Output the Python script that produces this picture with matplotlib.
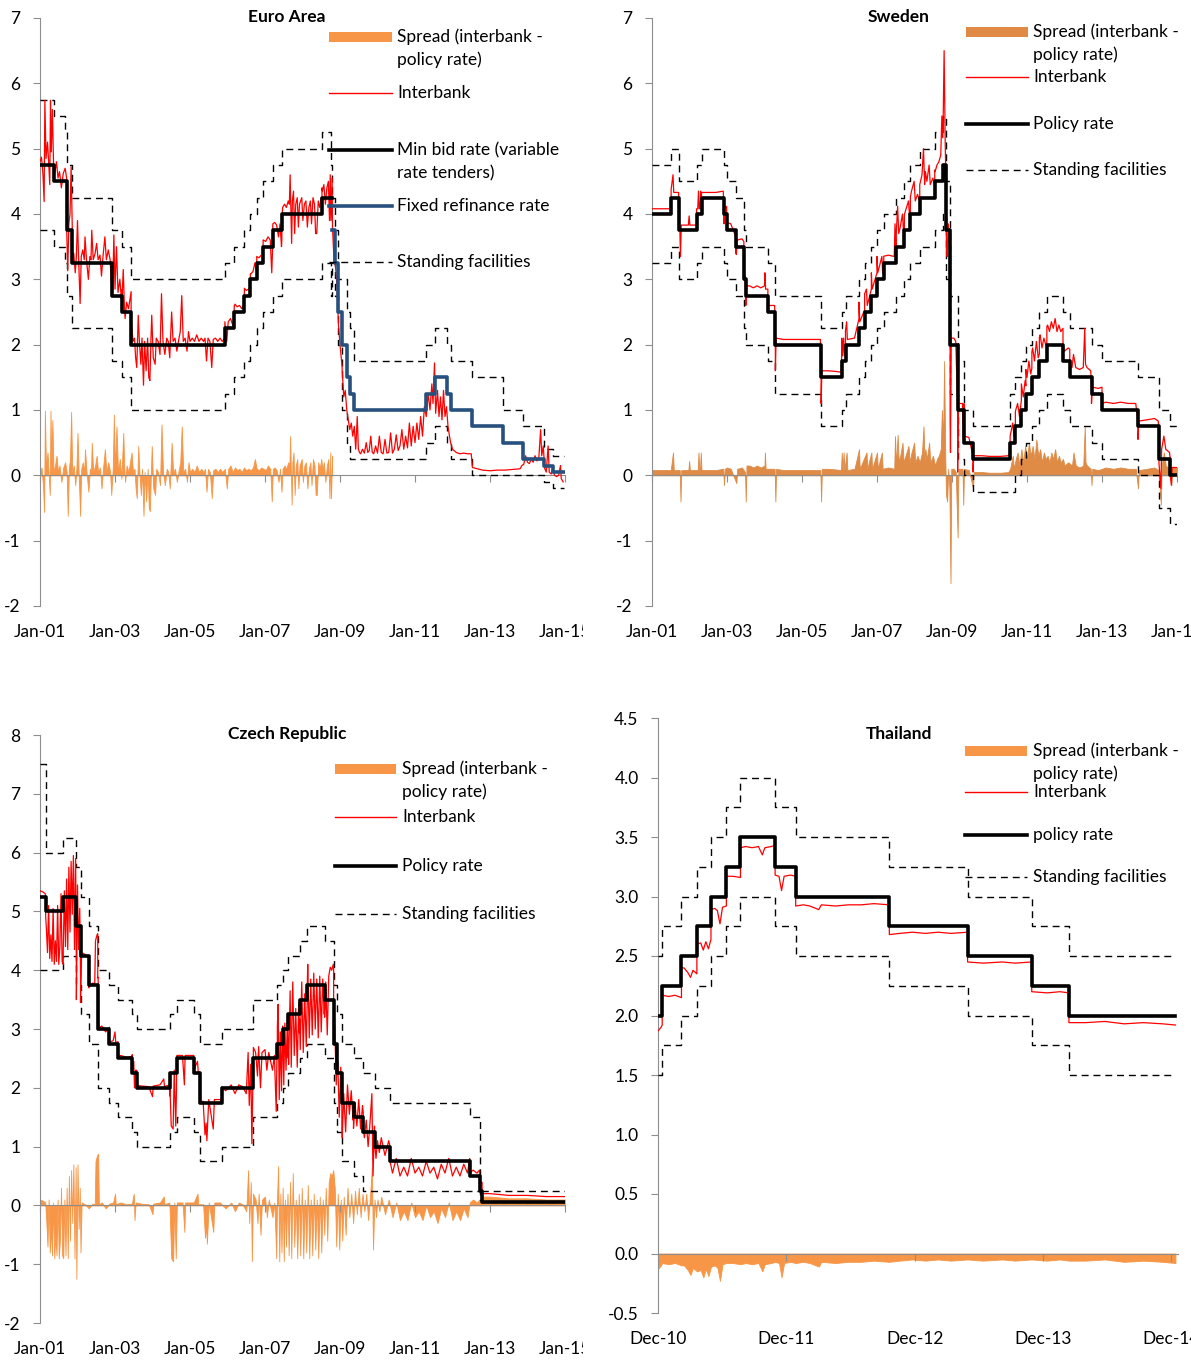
import numpy as np
import matplotlib
matplotlib.use("Agg")
import matplotlib.pyplot as plt
from matplotlib.transforms import Bbox, offset_copy
from matplotlib.lines import Line2D
from matplotlib.patches import Rectangle

plt.rcParams['font.family'] = ['Lato', 'DejaVu Sans']
plt.rcParams['axes.unicode_minus'] = False

W, H = 1191, 1362
ORANGE = '#F79646'
ORANGE_SE = '#DF8B45'
RED = '#FF0000'
NAVY = '#27507F'
GREY = '#8E8E8E'
DASH = (0, (5, 3.5))
FS = 12.5

# ---------------- Euro Area ----------------
ea_mbr_t = [2001.0, 2001.36, 2001.71, 2001.86, 2002.93, 2003.18, 2003.43, 2005.93, 2006.18,
            2006.45, 2006.61, 2006.78, 2006.95, 2007.20, 2007.45, 2008.52]
ea_mbr_v = [4.75, 4.5, 3.75, 3.25, 2.75, 2.5, 2.0, 2.25, 2.5, 2.75, 3.0, 3.25, 3.5, 3.75, 4.0, 4.25]
ea_mbr_end = 2008.79
ea_fix_t = [2008.79, 2008.87, 2008.94, 2009.05, 2009.19, 2009.27, 2009.36, 2011.28, 2011.53,
            2011.86, 2011.95, 2012.52, 2013.35, 2013.87, 2014.44, 2014.69]
ea_fix_v = [3.75, 3.25, 2.5, 2.0, 1.5, 1.25, 1.0, 1.25, 1.5, 1.25, 1.0, 0.75, 0.5, 0.25, 0.15, 0.05]
ea_sf_t = [2001.0, 2001.36, 2001.66, 2001.71, 2001.86, 2002.93, 2003.18, 2003.43, 2005.93, 2006.18,
           2006.45, 2006.61, 2006.78, 2006.95, 2007.20, 2007.45, 2008.52, 2008.77, 2008.78, 2008.87,
           2008.94, 2009.05, 2009.19, 2009.27, 2009.36, 2011.28, 2011.53, 2011.86, 2011.95, 2012.52,
           2013.35, 2013.87, 2014.44, 2014.69]
ea_hi_v = [5.75, 5.5, 5.25, 4.75, 4.25, 3.75, 3.5, 3.0, 3.25, 3.5, 3.75, 4.0, 4.25, 4.5, 4.75, 5.0,
           5.25, 4.75, 4.25, 3.75, 3.0, 3.0, 2.5, 2.25, 1.75, 2.0, 2.25, 2.0, 1.75, 1.5, 1.0, 0.75,
           0.4, 0.3]
ea_lo_v = [3.75, 3.5, 3.25, 2.75, 2.25, 1.75, 1.5, 1.0, 1.25, 1.5, 1.75, 2.0, 2.25, 2.5, 2.75, 3.0,
           3.25, 2.75, 3.25, 2.75, 2.0, 1.0, 0.5, 0.25, 0.25, 0.5, 0.75, 0.5, 0.25, 0.0, 0.0, 0.0,
           -0.1, -0.2]
ea_end = 2014.98
# spread (interbank - min bid rate), until the switch to fixed rate tenders
ea_spread = [
    (2001.00, 0.05), (2001.04, 0.12), (2001.08, -0.15), (2001.11, -0.56), (2001.13, 0.99),
    (2001.16, 0.1), (2001.20, 0.35), (2001.23, 0.05), (2001.26, -0.3), (2001.28, 0.99),
    (2001.30, 0.2), (2001.33, 0.85), (2001.36, 0.05), (2001.40, 0.15), (2001.44, 0.3),
    (2001.48, 0.05), (2001.52, 0.15), (2001.57, -0.1), (2001.62, 0.12), (2001.67, 0.2),
    (2001.71, 0.05), (2001.74, -0.62), (2001.77, 0.1), (2001.80, 0.25), (2001.83, 0.97),
    (2001.86, 0.05), (2001.90, 0.15), (2001.94, -0.15), (2001.97, 0.1), (2002.00, 0.65),
    (2002.03, 0.05), (2002.07, -0.62), (2002.10, 0.1), (2002.14, 0.2), (2002.18, 0.05),
    (2002.20, 0.4), (2002.24, 0.05), (2002.29, -0.25), (2002.33, 0.1), (2002.36, 0.05),
    (2002.38, 0.5), (2002.42, 0.05), (2002.47, 0.15), (2002.51, 0.3), (2002.55, 0.05),
    (2002.60, 0.12), (2002.64, -0.2), (2002.68, 0.1), (2002.73, 0.4), (2002.77, 0.05),
    (2002.82, 0.2), (2002.87, 0.05), (2002.90, -0.3), (2002.94, 0.1), (2002.97, 0.93),
    (2003.00, 0.1), (2003.04, 0.75), (2003.08, 0.05), (2003.13, 0.25), (2003.17, -0.05),
    (2003.22, 0.65), (2003.25, 0.1), (2003.27, -0.1), (2003.31, 0.15), (2003.36, 0.05),
    (2003.40, 0.2), (2003.44, 0.35), (2003.48, 0.05), (2003.52, 0.1), (2003.55, -0.2),
    (2003.58, -0.35), (2003.62, 0.45), (2003.65, 0.05), (2003.69, -0.3), (2003.72, 0.1),
    (2003.76, -0.62), (2003.79, 0.05), (2003.83, -0.4), (2003.87, 0.1), (2003.90, -0.5),
    (2003.93, -0.55), (2003.96, 0.1), (2003.98, 0.45), (2004.02, -0.2), (2004.07, -0.3),
    (2004.10, 0.1), (2004.15, 0.05), (2004.20, -0.15), (2004.24, 0.78), (2004.28, 0.05),
    (2004.33, -0.15), (2004.38, 0.1), (2004.42, 0.05), (2004.46, -0.2), (2004.51, 0.5),
    (2004.55, 0.05), (2004.60, 0.1), (2004.65, -0.1), (2004.70, 0.08), (2004.74, 0.2),
    (2004.78, 0.75), (2004.82, 0.05), (2004.87, 0.1), (2004.92, -0.1), (2004.96, 0.2),
    (2005.00, 0.05), (2005.06, 0.1), (2005.12, 0.05), (2005.18, 0.15), (2005.24, 0.05),
    (2005.30, 0.1), (2005.36, 0.05), (2005.40, 0.1), (2005.44, -0.25), (2005.48, 0.1),
    (2005.53, 0.05), (2005.58, -0.35), (2005.62, 0.08), (2005.68, 0.1), (2005.74, 0.05),
    (2005.80, 0.1), (2005.86, 0.05), (2005.93, 0.1), (2005.98, -0.2), (2006.02, 0.1),
    (2006.08, 0.15), (2006.14, 0.05), (2006.20, 0.12), (2006.26, 0.08), (2006.32, 0.1),
    (2006.38, 0.05), (2006.44, 0.12), (2006.50, 0.08), (2006.56, 0.1), (2006.62, 0.08),
    (2006.68, 0.12), (2006.73, 0.25), (2006.78, 0.1), (2006.84, 0.08), (2006.90, 0.12),
    (2006.96, 0.1), (2007.02, 0.08), (2007.08, 0.15), (2007.14, 0.1), (2007.18, -0.4),
    (2007.21, 0.1), (2007.26, 0.12), (2007.31, 0.08), (2007.36, -0.1), (2007.40, 0.1),
    (2007.44, -0.25), (2007.47, 0.1), (2007.52, 0.15), (2007.57, 0.1), (2007.62, 0.2),
    (2007.65, 0.15), (2007.67, 0.6), (2007.69, 0.1), (2007.71, -0.45), (2007.73, 0.2),
    (2007.76, 0.35), (2007.79, -0.3), (2007.82, 0.15), (2007.86, 0.25), (2007.89, -0.2),
    (2007.92, 0.15), (2007.95, 0.2), (2007.98, 0.25), (2008.01, -0.1), (2008.05, 0.15),
    (2008.09, 0.2), (2008.13, -0.2), (2008.17, 0.1), (2008.21, 0.2), (2008.24, -0.15),
    (2008.28, 0.25), (2008.32, 0.15), (2008.35, -0.3), (2008.38, -0.3), (2008.42, 0.2),
    (2008.46, 0.1), (2008.50, 0.25), (2008.53, 0.1), (2008.57, 0.2), (2008.61, -0.1),
    (2008.65, 0.15), (2008.69, 0.25), (2008.72, -0.35), (2008.74, 0.35), (2008.76, -0.35),
    (2008.79, 0.3),
]
# interbank level after Oct 2008
ea_ib_post = [
    (2008.80, 3.8), (2008.84, 3.3), (2008.88, 3.2), (2008.92, 2.9), (2008.96, 2.3), (2009.00, 2.0),
    (2009.05, 1.7), (2009.10, 1.2), (2009.14, 1.3), (2009.18, 1.0), (2009.22, 0.85), (2009.26, 0.7),
    (2009.30, 0.8), (2009.34, 0.6), (2009.38, 0.75), (2009.42, 0.4), (2009.46, 0.9), (2009.49, 0.4),
    (2009.52, 0.35), (2009.55, 0.33), (2009.60, 0.4), (2009.65, 0.34), (2009.70, 0.5), (2009.74, 0.35),
    (2009.78, 0.38), (2009.82, 0.6), (2009.86, 0.35), (2009.90, 0.33), (2009.95, 0.45), (2010.00, 0.34),
    (2010.05, 0.6), (2010.10, 0.35), (2010.15, 0.33), (2010.20, 0.55), (2010.25, 0.34), (2010.30, 0.35),
    (2010.35, 0.65), (2010.40, 0.34), (2010.45, 0.4), (2010.50, 0.62), (2010.55, 0.38), (2010.60, 0.45),
    (2010.65, 0.7), (2010.70, 0.4), (2010.75, 0.6), (2010.80, 0.42), (2010.85, 0.8), (2010.90, 0.45),
    (2010.95, 0.75), (2011.00, 0.5), (2011.05, 0.8), (2011.10, 0.55), (2011.15, 0.9), (2011.20, 0.6),
    (2011.25, 1.05), (2011.30, 0.9), (2011.35, 1.25), (2011.40, 1.0), (2011.45, 1.4), (2011.48, 1.1),
    (2011.52, 1.72), (2011.55, 0.95), (2011.60, 1.3), (2011.64, 0.9), (2011.68, 1.2), (2011.72, 0.85),
    (2011.76, 1.3), (2011.80, 0.9), (2011.84, 1.05), (2011.88, 0.75), (2011.92, 0.6), (2011.95, 0.5),
    (2012.00, 0.4), (2012.10, 0.35), (2012.20, 0.33), (2012.30, 0.34), (2012.40, 0.33), (2012.50, 0.33),
    (2012.53, 0.12), (2012.60, 0.11), (2012.80, 0.08), (2013.00, 0.07), (2013.20, 0.08), (2013.40, 0.08),
    (2013.60, 0.09), (2013.80, 0.1), (2013.85, 0.15), (2013.90, 0.17), (2013.95, 0.3), (2014.00, 0.2),
    (2014.05, 0.18), (2014.10, 0.25), (2014.15, 0.2), (2014.20, 0.3), (2014.25, 0.22), (2014.30, 0.25),
    (2014.35, 0.7), (2014.38, 0.3), (2014.42, 0.45), (2014.46, 0.1), (2014.50, 0.05), (2014.55, 0.45),
    (2014.58, 0.05), (2014.63, 0.02), (2014.67, 0.1), (2014.72, 0.0), (2014.78, -0.02), (2014.83, 0.0),
    (2014.88, 0.15), (2014.90, -0.05), (2014.95, -0.1),
]

# ---------------- Sweden ----------------
sw_pol_t = [2001.0, 2001.51, 2001.71, 2002.19, 2002.32, 2002.92, 2002.99, 2003.23, 2003.45, 2003.51,
            2004.09, 2004.29, 2005.51, 2006.06, 2006.16, 2006.52, 2006.67, 2006.85, 2007.0, 2007.18,
            2007.51, 2007.73, 2007.89, 2008.14, 2008.54, 2008.75, 2008.85, 2008.95, 2009.15, 2009.32,
            2009.56, 2010.55, 2010.69, 2010.85, 2010.97, 2011.13, 2011.33, 2011.53, 2011.96, 2012.14,
            2012.72, 2013.0, 2013.96, 2014.52, 2014.82]
sw_pol_v = [4.0, 4.25, 3.75, 4.0, 4.25, 4.0, 3.75, 3.5, 3.0, 2.75, 2.5, 2.0, 1.5, 1.75, 2.0, 2.25,
            2.5, 2.75, 3.0, 3.25, 3.5, 3.75, 4.0, 4.25, 4.5, 4.75, 3.75, 2.0, 1.0, 0.5, 0.25, 0.5,
            0.75, 1.0, 1.25, 1.5, 1.75, 2.0, 1.75, 1.5, 1.25, 1.0, 0.75, 0.25, 0.0]
sw_hi_v = [4.75, 5.0, 4.5, 4.75, 5.0, 4.75, 4.5, 4.25, 3.75, 3.5, 3.25, 2.75, 2.25, 2.5, 2.75, 3.0,
           3.25, 3.5, 3.75, 4.0, 4.25, 4.5, 4.75, 5.0, 5.25, 5.5, 4.5, 2.75, 1.75, 1.0, 0.75, 1.25,
           1.5, 1.75, 2.0, 2.25, 2.5, 2.75, 2.5, 2.25, 2.0, 1.75, 1.5, 1.0, 0.75]
sw_lo_v = [3.25, 3.5, 3.0, 3.25, 3.5, 3.25, 3.0, 2.75, 2.25, 2.0, 1.75, 1.25, 0.75, 1.0, 1.25, 1.5,
           1.75, 2.0, 2.25, 2.5, 2.75, 3.0, 3.25, 3.5, 3.75, 4.0, 3.0, 1.25, 0.25, 0.0, -0.25, -0.25,
           0.0, 0.25, 0.5, 0.75, 1.0, 1.25, 1.0, 0.75, 0.5, 0.25, 0.0, -0.5, -0.75]
sw_end = 2015.0
sw_spread = [
    (2001.00, 0.08), (2001.50, 0.08), (2001.56, 0.35), (2001.58, 0.08), (2001.74, 0.08),
    (2001.76, -0.4), (2001.78, 0.08), (2001.97, 0.08), (2001.99, 0.22), (2002.01, 0.08),
    (2002.22, 0.08), (2002.24, 0.35), (2002.26, 0.08), (2002.28, 0.08), (2002.30, 0.35),
    (2002.32, 0.08), (2002.70, 0.08), (2002.90, 0.1), (2002.92, -0.15), (2002.94, 0.1),
    (2003.00, 0.12), (2003.10, 0.1), (2003.25, -0.12), (2003.27, 0.1), (2003.40, 0.12),
    (2003.48, 0.05), (2003.50, -0.4), (2003.52, 0.15), (2003.60, 0.15), (2003.70, 0.12),
    (2003.80, 0.15), (2003.90, 0.12), (2004.00, 0.15), (2004.01, 0.35), (2004.03, 0.1),
    (2004.27, 0.1), (2004.29, -0.4), (2004.31, 0.1), (2004.50, 0.08), (2004.90, 0.08),
    (2005.30, 0.08), (2005.49, 0.08), (2005.51, -0.4), (2005.53, 0.1), (2005.70, 0.1),
    (2005.90, 0.09), (2006.04, 0.08), (2006.06, 0.35), (2006.08, 0.08), (2006.11, 0.35),
    (2006.13, 0.08), (2006.19, 0.35), (2006.21, 0.08), (2006.40, 0.1), (2006.52, 0.4),
    (2006.54, 0.1), (2006.72, 0.35), (2006.74, 0.1), (2006.85, 0.35), (2006.87, 0.1),
    (2007.00, 0.35), (2007.02, 0.1), (2007.13, 0.35), (2007.15, 0.1), (2007.30, 0.12),
    (2007.46, 0.1), (2007.48, 0.6), (2007.51, 0.15), (2007.55, 0.62), (2007.58, 0.2),
    (2007.62, 0.3), (2007.68, 0.5), (2007.71, 0.2), (2007.76, 0.3), (2007.84, 0.45),
    (2007.87, 0.2), (2007.92, 0.35), (2007.99, 0.5), (2008.02, 0.2), (2008.08, 0.3),
    (2008.14, 0.2), (2008.20, 0.35), (2008.24, 0.75), (2008.27, 0.2), (2008.29, 0.4),
    (2008.33, 0.25), (2008.39, 0.5), (2008.42, 0.2), (2008.49, 0.3), (2008.55, 0.15),
    (2008.60, 0.25), (2008.65, 0.3), (2008.70, 0.4), (2008.73, 1.0), (2008.76, 0.5),
    (2008.79, 1.75), (2008.82, 0.3), (2008.84, -0.3), (2008.87, -0.4), (2008.90, 0.1),
    (2008.93, -0.2), (2008.96, -1.65), (2008.98, 0.1), (2009.05, 0.1), (2009.10, 0.05),
    (2009.15, -0.95), (2009.17, 0.1), (2009.28, 0.1), (2009.30, -0.45), (2009.32, 0.1),
    (2009.45, 0.08), (2009.56, -0.2), (2009.58, 0.05), (2009.80, 0.05), (2010.00, 0.04),
    (2010.30, 0.04), (2010.50, 0.05), (2010.55, 0.1), (2010.62, 0.3), (2010.65, 0.1),
    (2010.70, 0.25), (2010.75, 0.35), (2010.80, 0.15), (2010.85, 0.4), (2010.90, 0.2),
    (2010.95, 0.45), (2011.00, 0.25), (2011.05, 0.5), (2011.10, 0.3), (2011.15, 0.45),
    (2011.20, 0.25), (2011.25, 0.55), (2011.30, 0.3), (2011.35, 0.4), (2011.40, 0.2),
    (2011.45, 0.35), (2011.50, 0.25), (2011.55, 0.3), (2011.60, 0.2), (2011.65, 0.35),
    (2011.70, 0.25), (2011.75, 0.4), (2011.80, 0.2), (2011.85, 0.3), (2011.90, 0.2),
    (2011.96, 0.25), (2012.00, 0.15), (2012.10, 0.2), (2012.20, 0.15), (2012.24, 0.35),
    (2012.30, 0.15), (2012.40, 0.12), (2012.50, 0.15), (2012.54, 0.75), (2012.56, 0.2),
    (2012.60, 0.15), (2012.70, 0.1), (2012.72, -0.15), (2012.74, 0.1), (2012.90, 0.08),
    (2013.10, 0.12), (2013.30, 0.1), (2013.50, 0.12), (2013.70, 0.1), (2013.90, 0.1),
    (2013.96, -0.2), (2013.98, 0.08), (2014.20, 0.1), (2014.40, 0.12), (2014.50, 0.08),
    (2014.57, -0.45), (2014.59, 0.15), (2014.65, 0.35), (2014.70, 0.15), (2014.80, 0.1),
    (2014.85, -0.15), (2014.87, 0.12), (2015.00, 0.12),
]

# ---------------- Czech Republic ----------------
cz_pol_t = [2001.0, 2001.15, 2001.62, 2001.97, 2002.08, 2002.3, 2002.54, 2002.85, 2003.08, 2003.46,
            2003.58, 2004.46, 2004.64, 2005.1, 2005.26, 2005.85, 2006.69, 2007.33, 2007.48, 2007.62,
            2007.92, 2008.13, 2008.59, 2008.83, 2008.93, 2009.05, 2009.36, 2009.62, 2009.92, 2010.33,
            2012.46, 2012.72, 2012.79]
cz_pol_v = [5.25, 5.0, 5.25, 4.75, 4.25, 3.75, 3.0, 2.75, 2.5, 2.25, 2.0, 2.25, 2.5, 2.25, 1.75,
            2.0, 2.5, 2.75, 3.0, 3.25, 3.5, 3.75, 3.5, 2.75, 2.25, 1.75, 1.5, 1.25, 1.0, 0.75,
            0.5, 0.25, 0.05]
cz_hi_v = [7.5, 6.0, 6.25, 5.75, 5.25, 4.75, 4.0, 3.75, 3.5, 3.25, 3.0, 3.25, 3.5, 3.25, 2.75,
           3.0, 3.5, 3.75, 4.0, 4.25, 4.5, 4.75, 4.5, 3.75, 3.25, 2.75, 2.5, 2.25, 2.0, 1.75,
           1.5, 0.25, 0.25]
cz_lo_v = [4.0, 4.0, 4.25, 3.75, 3.25, 2.75, 2.0, 1.75, 1.5, 1.25, 1.0, 1.25, 1.5, 1.25, 0.75,
           1.0, 1.5, 1.75, 2.0, 2.25, 2.5, 2.75, 2.5, 1.75, 1.25, 0.75, 0.5, 0.25, 0.25, 0.25,
           0.25, 0.1, 0.05]
cz_end = 2015.0
cz_spread = [
    (2001.00, 0.1), (2001.08, 0.08), (2001.14, 0.05), (2001.17, -0.3), (2001.20, -0.7),
    (2001.23, 0.1), (2001.26, -0.8), (2001.29, -0.4), (2001.32, -0.85), (2001.35, 0.05),
    (2001.38, -0.9), (2001.41, -0.5), (2001.44, -0.85), (2001.47, 0.1), (2001.50, -0.9),
    (2001.53, -0.6), (2001.56, 0.3), (2001.59, -0.85), (2001.62, -0.9), (2001.65, 0.1),
    (2001.68, -0.85), (2001.71, 0.3), (2001.74, -0.9), (2001.77, 0.5), (2001.80, -0.6),
    (2001.83, 0.6), (2001.86, -0.3), (2001.89, 0.7), (2001.92, -0.9), (2001.95, 0.65),
    (2001.97, -1.25), (2002.00, 0.7), (2002.03, -0.4), (2002.06, 0.3), (2002.08, -0.8),
    (2002.11, 0.05), (2002.20, 0.02), (2002.30, -0.05), (2002.40, 0.03), (2002.46, 0.02),
    (2002.48, 0.75), (2002.52, 0.85), (2002.55, 0.88), (2002.57, 0.02), (2002.65, 0.05),
    (2002.75, -0.05), (2002.85, 0.03), (2002.95, 0.05), (2003.00, 0.2), (2003.02, 0.02),
    (2003.15, 0.05), (2003.30, 0.02), (2003.45, 0.03), (2003.50, 0.2), (2003.52, -0.25),
    (2003.55, 0.05), (2003.70, 0.03), (2003.90, 0.02), (2004.00, -0.15), (2004.02, 0.03),
    (2004.20, 0.05), (2004.30, 0.15), (2004.32, 0.02), (2004.45, 0.05), (2004.50, -0.9),
    (2004.55, -0.95), (2004.58, 0.05), (2004.62, -0.9), (2004.65, 0.05), (2004.80, 0.05),
    (2004.85, -0.45), (2004.87, 0.05), (2005.10, 0.05), (2005.20, 0.2), (2005.22, 0.02),
    (2005.35, 0.02), (2005.40, -0.55), (2005.43, -0.35), (2005.45, -0.65), (2005.50, 0.05),
    (2005.62, -0.45), (2005.65, 0.05), (2005.80, 0.05), (2005.95, -0.05), (2006.10, 0.05),
    (2006.20, -0.1), (2006.30, 0.05), (2006.40, 0.02), (2006.50, -0.1), (2006.55, 0.6),
    (2006.58, -0.3), (2006.62, 0.4), (2006.65, -0.95), (2006.68, 0.2), (2006.75, 0.1),
    (2006.80, -0.3), (2006.83, 0.2), (2006.88, -0.5), (2006.92, 0.1), (2007.00, 0.15),
    (2007.05, -0.2), (2007.10, 0.1), (2007.20, -0.2), (2007.25, 0.05), (2007.30, -0.9),
    (2007.32, 0.1), (2007.35, 0.67), (2007.38, -0.95), (2007.41, 0.2), (2007.44, -0.8),
    (2007.47, 0.3), (2007.50, -0.95), (2007.53, 0.1), (2007.56, -0.7), (2007.60, 0.2),
    (2007.63, -0.85), (2007.67, 0.4), (2007.70, -0.9), (2007.74, 0.55), (2007.78, -0.7),
    (2007.82, 0.1), (2007.86, -0.9), (2007.90, 0.2), (2007.94, -0.85), (2007.98, 0.3),
    (2008.02, -0.9), (2008.06, 0.1), (2008.10, -0.8), (2008.14, 0.35), (2008.18, -0.9),
    (2008.22, 0.1), (2008.26, -0.85), (2008.30, 0.2), (2008.34, -0.75), (2008.38, 0.1),
    (2008.42, -0.9), (2008.46, 0.15), (2008.50, -0.8), (2008.54, 0.1), (2008.58, -0.5),
    (2008.62, 0.3), (2008.66, -0.6), (2008.70, 0.4), (2008.74, 0.55), (2008.78, 0.5),
    (2008.82, 0.6), (2008.86, 0.3), (2008.90, -0.7), (2008.94, 0.2), (2008.98, -0.75),
    (2009.02, 0.1), (2009.06, -0.6), (2009.10, 0.15), (2009.15, -0.5), (2009.20, 0.3),
    (2009.25, -0.2), (2009.30, 0.2), (2009.35, -0.3), (2009.40, 0.25), (2009.45, -0.15),
    (2009.50, 0.3), (2009.55, -0.2), (2009.60, 0.2), (2009.65, -0.1), (2009.70, 0.2),
    (2009.75, -0.25), (2009.80, 0.15), (2009.85, 0.65), (2009.88, -0.75), (2009.92, 0.1),
    (2009.96, -0.2), (2010.00, 0.1), (2010.05, -0.1), (2010.10, 0.15), (2010.20, -0.15),
    (2010.30, 0.1), (2010.40, -0.2), (2010.50, 0.05), (2010.60, -0.25), (2010.70, -0.1),
    (2010.80, -0.25), (2010.90, 0.05), (2011.00, -0.2), (2011.10, -0.1), (2011.20, -0.25),
    (2011.30, 0.0), (2011.40, -0.2), (2011.50, -0.1), (2011.60, -0.3), (2011.70, -0.05),
    (2011.80, -0.2), (2011.90, 0.05), (2012.00, -0.25), (2012.10, -0.1), (2012.20, -0.25),
    (2012.30, -0.05), (2012.40, -0.2), (2012.46, 0.05), (2012.55, 0.1), (2012.65, 0.05),
    (2012.72, 0.1), (2012.80, 0.15), (2013.00, 0.15), (2013.50, 0.12), (2014.00, 0.12),
    (2014.50, 0.1), (2015.00, 0.1),
]

# ---------------- Thailand ----------------
th_pol_t = [2010.917, 2010.95, 2011.1, 2011.22, 2011.33, 2011.45, 2011.56, 2011.83, 2011.99,
            2012.72, 2013.33, 2013.83, 2014.12]
th_pol_v = [2.0, 2.25, 2.5, 2.75, 3.0, 3.25, 3.5, 3.25, 3.0, 2.75, 2.5, 2.25, 2.0]
th_hi_v = [2.5, 2.75, 3.0, 3.25, 3.5, 3.75, 4.0, 3.75, 3.5, 3.25, 3.0, 2.75, 2.5]
th_lo_v = [1.5, 1.75, 2.0, 2.25, 2.5, 2.75, 3.0, 2.75, 2.5, 2.25, 2.0, 1.75, 1.5]
th_end = 2014.95
th_spread = [
    (2010.917, -0.13), (2010.94, -0.1), (2010.95, -0.08), (2011.00, -0.09), (2011.05, -0.08),
    (2011.10, -0.1), (2011.12, -0.1), (2011.15, -0.14), (2011.17, -0.18), (2011.19, -0.12),
    (2011.22, -0.15), (2011.25, -0.14), (2011.27, -0.2), (2011.29, -0.13), (2011.31, -0.19),
    (2011.33, -0.11), (2011.36, -0.1), (2011.38, -0.12), (2011.40, -0.23), (2011.42, -0.09),
    (2011.45, -0.08), (2011.50, -0.08), (2011.56, -0.09), (2011.60, -0.08), (2011.65, -0.09),
    (2011.70, -0.08), (2011.73, -0.15), (2011.75, -0.09), (2011.80, -0.08), (2011.83, -0.07),
    (2011.86, -0.08), (2011.88, -0.2), (2011.90, -0.08), (2011.95, -0.07), (2011.99, -0.08),
    (2012.05, -0.07), (2012.10, -0.08), (2012.17, -0.11), (2012.19, -0.07), (2012.30, -0.08),
    (2012.40, -0.07), (2012.50, -0.07), (2012.60, -0.06), (2012.72, -0.07), (2012.80, -0.06),
    (2012.90, -0.05), (2013.00, -0.06), (2013.10, -0.05), (2013.20, -0.06), (2013.33, -0.05),
    (2013.45, -0.06), (2013.60, -0.05), (2013.70, -0.06), (2013.83, -0.05), (2013.95, -0.06),
    (2014.05, -0.05), (2014.12, -0.06), (2014.25, -0.06), (2014.40, -0.05), (2014.55, -0.07),
    (2014.70, -0.06), (2014.85, -0.07), (2014.95, -0.08),
]


def step_at(t, dates, vals):
    i = np.searchsorted(dates, t, side='right') - 1
    return np.asarray(vals, float)[np.clip(i, 0, len(vals) - 1)]


def from_spread(spread, pol_t, pol_v):
    st, sv = (np.asarray(a) for a in zip(*spread))
    pt = np.asarray(pol_t)
    x = np.unique(np.concatenate([st, pt - 1e-4, pt]))
    x = x[(x >= st[0]) & (x <= st[-1])]
    return x, step_at(x, pol_t, pol_v) + np.interp(x, st, sv), st, sv


def steps(ax, t, v, end, **kw):
    ax.plot(list(t) + [end], list(v) + [v[-1]], drawstyle='steps-post', **kw)


fig = plt.figure(figsize=(W / 100, H / 100), dpi=100)


def px(x, y):
    return x / W, 1 - y / H


def panel(l, r, t, b, xlim, ylim, yticks, yfmt, xticks, xlabels, clip_x=None):
    ax = fig.add_axes([l / W, 1 - b / H, (r - l) / W, (b - t) / H])
    ax.set_xlim(*xlim)
    ax.set_ylim(*ylim)
    for s in ['top', 'right']:
        ax.spines[s].set_visible(False)
    ax.spines['left'].set_color(GREY)
    ax.spines['bottom'].set_color(GREY)
    ax.spines['bottom'].set_position(('data', 0))
    ax.set_yticks(yticks)
    ax.set_yticklabels([yfmt.format(v) for v in yticks])
    ax.set_xticks(xticks)
    ax.tick_params(axis='x', direction='out', length=5, color=GREY, labelbottom=False)
    ax.tick_params(axis='y', direction='out', length=5, color=GREY, pad=9, labelsize=FS)
    tr = offset_copy(ax.get_xaxis_transform(), fig=fig, x=0, y=-26, units='dots')
    for xv, lab in zip(xticks, xlabels):
        txt = ax.text(xv, 0, lab, transform=tr, ha='center', va='center', fontsize=FS)
        if clip_x is not None:
            txt.set_clip_box(Bbox.from_extents(0, 0, clip_x, H))
            txt.set_clip_on(True)
    return ax


def legend(entries, x0, x1, xt):
    for kind, y, text, color in entries:
        if kind == 'patch':
            fig.add_artist(Rectangle(px(x0, y + 5), (x1 - x0) / W, 10 / H,
                                     transform=fig.transFigure, color=color, lw=0))
        else:
            lw, ls = {'thin': (1.0, '-'), 'thick': (2.6, '-'), 'dash': (1.0, DASH)}[kind]
            fig.add_artist(Line2D([x0 / W, x1 / W], [1 - y / H] * 2, transform=fig.transFigure,
                                  color=color, lw=lw, linestyle=ls))
        for k, line in enumerate(text.split('\n')):
            fig.text(*px(xt, y + 23 * k), line, ha='left', va='center', fontsize=FS)


jan_ticks = [2001, 2003, 2005, 2007, 2009, 2011, 2013, 2015]
jan_labels = ['Jan-%02d' % (y % 100) for y in jan_ticks]

# ---- Euro Area ----
ax = panel(40, 565, 18, 606, (2001, 2015), (-2, 7), range(-2, 8), '{:d}', jan_ticks, jan_labels, clip_x=583)
x1, y1, st, sv = from_spread(ea_spread, ea_mbr_t, ea_mbr_v)
pt, pv = (np.asarray(a) for a in zip(*ea_ib_post))
ax.fill_between(st, 0, sv, color=ORANGE, lw=0.6, edgecolor=ORANGE, zorder=1.5)
steps(ax, ea_sf_t, ea_hi_v, ea_end, color='black', lw=1.0, ls=DASH, zorder=2.6)
steps(ax, ea_sf_t, ea_lo_v, ea_end, color='black', lw=1.0, ls=DASH, zorder=2.6)
ax.plot(np.concatenate([x1, pt]), np.concatenate([y1, pv]), color=RED, lw=0.9, zorder=3)
steps(ax, ea_mbr_t, ea_mbr_v, ea_mbr_end, color='black', lw=2.6, zorder=4)
steps(ax, ea_fix_t, ea_fix_v, ea_end, color=NAVY, lw=2.6, zorder=4)
fig.text(*px(287, 17), 'Euro Area', ha='center', va='center', fontsize=FS, fontweight='bold')
legend([('patch', 37, 'Spread (interbank -\npolicy rate)', ORANGE),
        ('thin', 93, 'Interbank', RED),
        ('thick', 150, 'Min bid rate (variable\nrate tenders)', 'black'),
        ('thick', 206, 'Fixed refinance rate', NAVY),
        ('dash', 262, 'Standing facilities', 'black')], 329, 392, 397)

# ---- Sweden ----
ax = panel(652, 1177, 18, 606, (2001, 2015), (-2, 7), range(-2, 8), '{:d}', jan_ticks, jan_labels)
x, y, st, sv = from_spread(sw_spread, sw_pol_t, sw_pol_v)
ax.fill_between(st, 0, sv, color=ORANGE_SE, lw=0.6, edgecolor=ORANGE_SE, zorder=1.5)
steps(ax, sw_pol_t, sw_hi_v, sw_end, color='black', lw=1.0, ls=DASH, zorder=2.6)
steps(ax, sw_pol_t, sw_lo_v, sw_end, color='black', lw=1.0, ls=DASH, zorder=2.6)
ax.plot(x, y, color=RED, lw=0.9, zorder=3)
steps(ax, sw_pol_t, sw_pol_v, sw_end, color='black', lw=2.6, zorder=4)
fig.text(*px(899, 17), 'Sweden', ha='center', va='center', fontsize=FS, fontweight='bold')
legend([('patch', 32, 'Spread (interbank -\npolicy rate)', ORANGE_SE),
        ('thin', 77, 'Interbank', RED),
        ('thick', 124, 'Policy rate', 'black'),
        ('dash', 170, 'Standing facilities', 'black')], 966, 1028, 1033)

# ---- Czech Republic ----
ax = panel(40, 565, 735, 1323, (2001, 2015), (-2, 8), range(-2, 9), '{:d}', jan_ticks, jan_labels, clip_x=583)
x, y, st, sv = from_spread(cz_spread, cz_pol_t, cz_pol_v)
ax.fill_between(st, 0, sv, color=ORANGE, lw=0.6, edgecolor=ORANGE, zorder=1.5)
steps(ax, cz_pol_t, cz_hi_v, cz_end, color='black', lw=1.0, ls=DASH, zorder=2.6)
steps(ax, cz_pol_t, cz_lo_v, cz_end, color='black', lw=1.0, ls=DASH, zorder=2.6)
ax.plot(x, y, color=RED, lw=0.9, zorder=3)
steps(ax, cz_pol_t, cz_pol_v, cz_end, color='black', lw=2.6, zorder=4)
fig.text(*px(287, 734), 'Czech Republic', ha='center', va='center', fontsize=FS, fontweight='bold')
legend([('patch', 769, 'Spread (interbank -\npolicy rate)', ORANGE),
        ('thin', 817, 'Interbank', RED),
        ('thick', 866, 'Policy rate', 'black'),
        ('dash', 914, 'Standing facilities', 'black')], 335, 396, 402)

# ---- Thailand ----
dec_ticks = [2010.917, 2011.917, 2012.917, 2013.917, 2014.917]
dec_labels = ['Dec-10', 'Dec-11', 'Dec-12', 'Dec-13', 'Dec-14']
ax = panel(658, 1178, 718, 1313, (2010.917, 2014.97), (-0.5, 4.5), np.arange(-0.5, 4.51, 0.5),
           '{:.1f}', dec_ticks, dec_labels)
x, y, st, sv = from_spread(th_spread, th_pol_t, th_pol_v)
ax.fill_between(st, 0, sv, color=ORANGE, lw=0.6, edgecolor=ORANGE, zorder=1.5)
steps(ax, th_pol_t, th_hi_v, th_end, color='black', lw=1.0, ls=DASH, zorder=2.6)
steps(ax, th_pol_t, th_lo_v, th_end, color='black', lw=1.0, ls=DASH, zorder=2.6)
ax.plot(x, y, color=RED, lw=0.9, zorder=3)
steps(ax, th_pol_t, th_pol_v, th_end, color='black', lw=2.6, zorder=4)
fig.text(*px(899, 734), 'Thailand', ha='center', va='center', fontsize=FS, fontweight='bold')
legend([('patch', 751, 'Spread (interbank -\npolicy rate)', ORANGE),
        ('thin', 792, 'Interbank', RED),
        ('thick', 835, 'policy rate', 'black'),
        ('dash', 877, 'Standing facilities', 'black')], 965, 1027, 1033)

fig.savefig('out.png', dpi=100)
